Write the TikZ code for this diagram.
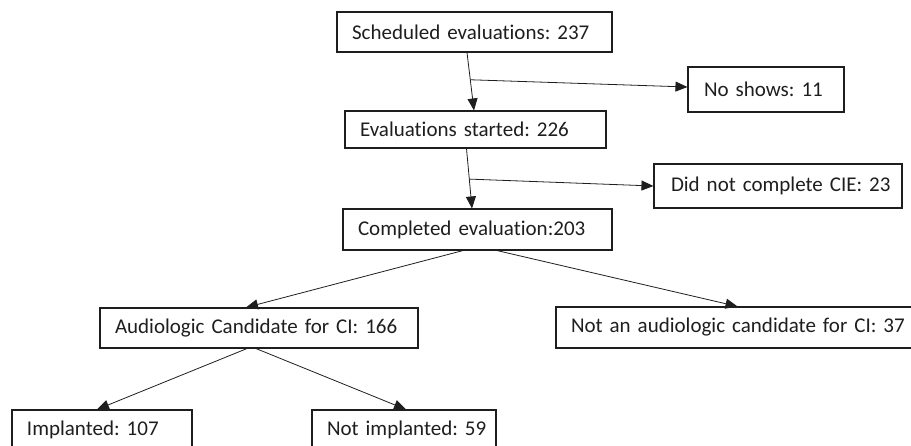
\documentclass[tikz,border=0pt]{standalone}
\usepackage{fontspec}
\setmainfont{Carlito}[Ligatures={CommonOff,ContextualOff}]
\usetikzlibrary{arrows.meta,calc}
\definecolor{ink}{HTML}{1E1E1E}
\frenchspacing
\tikzset{
  box/.style={draw=ink, line width=1.1pt, inner xsep=15pt, inner ysep=0pt,
    align=left, text=ink, font=\fontsize{21pt}{24pt}\selectfont\frenchspacing, anchor=center},
  conn/.style={draw=ink, line width=0.8pt, -{Triangle[length=12pt,width=10pt]}},
  plain/.style={draw=ink, line width=0.8pt}
}
\begin{document}
\begin{tikzpicture}[x=1pt,y=-1pt]
\useasboundingbox (0,0) rectangle (911,445);
\node[box, text width=245pt, minimum height=40pt] (n1) at (474.5,32) {\mbox{Scheduled evaluations: 237}};
\node[box, text width=124pt, minimum height=45pt, inner xsep=16pt] (n2) at (766,89.5) {\mbox{No shows: 11}};
\node[box, text width=231pt, minimum height=37pt] (n3) at (475.5,129.5) {\mbox{Evaluations started: 226}};
\node[box, text width=214pt, minimum height=44pt, inner xsep=17pt] (n4) at (778,186) {\mbox{Did not complete CIE: 23}};
\node[box, text width=239pt, minimum height=41pt] (n5) at (477.5,229.5) {\mbox{Completed evaluation:203}};
\node[box, text width=288pt, minimum height=40pt] (n6) at (259,328) {\mbox{Audiologic Candidate for CI: 166}};
\node[box, text width=329pt, minimum height=41pt] (n7) at (735.5,327.5) {\mbox{Not an audiologic candidate for CI: 37}};
\node[box, text width=150pt, minimum height=40pt] (n8) at (102,430) {\mbox{Implanted: 107}};
\node[box, text width=154pt, minimum height=40pt] (n9) at (404,430) {\mbox{Not implanted: 59}};

\coordinate (s1) at ([xshift=-7.5pt]n1.south);
\coordinate (e1) at ([xshift=-1.5pt]n3.north);
\coordinate (b1) at ($(s1)!0.47!(e1)$);
\draw[conn] (s1) -- (e1);
\draw[conn] (b1) -- ([yshift=2.5pt]n2.west);

\coordinate (s2) at ([xshift=-9pt]n3.south);
\coordinate (e2) at ([xshift=-5.5pt]n5.north);
\coordinate (b2) at ($(s2)!0.51!(e2)$);
\draw[conn] (s2) -- (e2);
\draw[conn] (b2) -- (n4.west);

\draw[conn] ([xshift=-14.5pt]n5.south) -- ([xshift=-13pt]n6.north);
\draw[conn] ([xshift=19.5pt]n5.south) -- ([xshift=2pt]n7.north);

\draw[conn] ([xshift=-12pt]n6.south) -- ([xshift=-5pt]n8.north);
\draw[conn] ([xshift=-3pt]n6.south) -- ([xshift=2pt]n9.north);
\end{tikzpicture}
\end{document}
